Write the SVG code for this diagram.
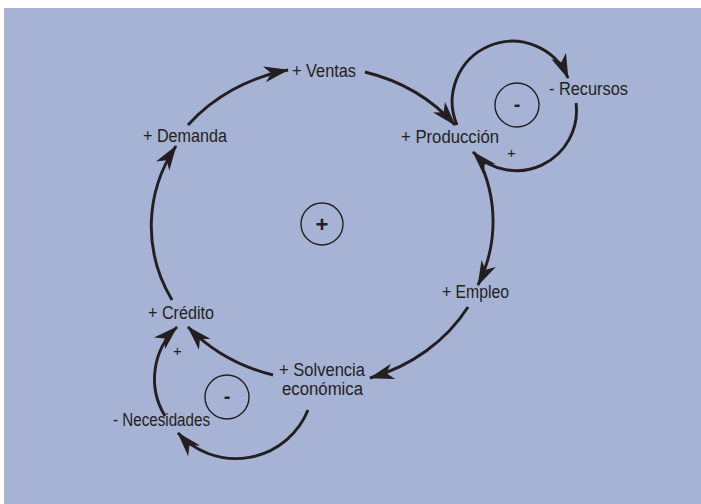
<svg xmlns="http://www.w3.org/2000/svg" width="701" height="504" viewBox="0 0 701 504">
<defs>
<marker id="ah" markerUnits="userSpaceOnUse" markerWidth="30" markerHeight="22" viewBox="-27 -11 30 22" refX="0" refY="0" orient="auto">
<path d="M1,0 L-24,-8 L-17,0 L-24,8 Z" fill="#231f20"/>
</marker>
</defs>
<style>
.lbl{font-family:"Liberation Sans",Arial,sans-serif;font-size:18px;fill:#231f20}
.sm{font-family:"Liberation Sans",Arial,sans-serif;font-size:15px;fill:#231f20}
.sign{font-family:"Liberation Sans",Arial,sans-serif;font-weight:bold;fill:#231f20;text-anchor:middle}
.c{fill:none;stroke:#231f20;stroke-width:2.9;marker-end:url(#ah)}
.ring{fill:none;stroke:#231f20;stroke-width:1.4}
</style>
<rect x="4" y="8" width="697" height="496" fill="#a6b3d5"/>
<g id="connectors">
<path class="c" d="M188,125 A174,156 0 0 1 288,70"/>
<path class="c" d="M365,72 A174,156 0 0 1 455,125"/>
<path class="c" d="M478,158 A174,156 0 0 1 478,285"/>
<path class="c" d="M468,307 A174,156 0 0 1 370,378"/>
<path class="c" d="M273,375 A174,156 0 0 1 188,327"/>
<path class="c" d="M172,300 A174,156 0 0 1 176,146"/>
<path class="c" d="M457,125 A60,60 0 0 1 568,78"/>
<path class="c" d="M576,103 A60,60 0 0 1 473,152"/>
<path class="c" d="M165,416 A71,71 0 0 1 177,327"/>
<path class="c" d="M308,410 A78,78 0 0 1 178,433"/>
</g>
<g id="loop-main"><circle class="ring" cx="322" cy="224" r="21"/><text class="sign" x="322" y="232" font-size="22">+</text></g>
<g id="loop-recursos"><circle class="ring" cx="517" cy="105" r="22"/><text class="sign" x="517" y="111" font-size="20">-</text></g>
<g id="loop-necesidades"><circle class="ring" cx="227" cy="397" r="22"/><text class="sign" x="227" y="403" font-size="20">-</text></g>
<g id="node-ventas"><text class="lbl" x="292" y="77" textLength="64" lengthAdjust="spacingAndGlyphs">+ Ventas</text></g>
<g id="node-produccion"><text class="lbl" x="401" y="143" textLength="98" lengthAdjust="spacingAndGlyphs">+ Producción</text></g>
<g id="node-recursos"><text class="lbl" x="549" y="95" textLength="79" lengthAdjust="spacingAndGlyphs">- Recursos</text></g>
<g id="node-demanda"><text class="lbl" x="143" y="142" textLength="84" lengthAdjust="spacingAndGlyphs">+ Demanda</text></g>
<g id="node-empleo"><text class="lbl" x="442" y="298" textLength="67" lengthAdjust="spacingAndGlyphs">+ Empleo</text></g>
<g id="node-credito"><text class="lbl" x="148" y="319" textLength="66" lengthAdjust="spacingAndGlyphs">+ Crédito</text></g>
<g id="node-solvencia"><text class="lbl" x="279" y="376" textLength="86" lengthAdjust="spacingAndGlyphs">+ Solvencia</text><text class="lbl" x="282" y="395" textLength="81" lengthAdjust="spacingAndGlyphs">económica</text></g>
<g id="node-necesidades"><text class="lbl" x="113" y="426" textLength="97" lengthAdjust="spacingAndGlyphs">- Necesidades</text></g>
<g id="polarity"><text class="sm" x="507" y="158">+</text><text class="sm" x="173" y="356">+</text></g>
</svg>
